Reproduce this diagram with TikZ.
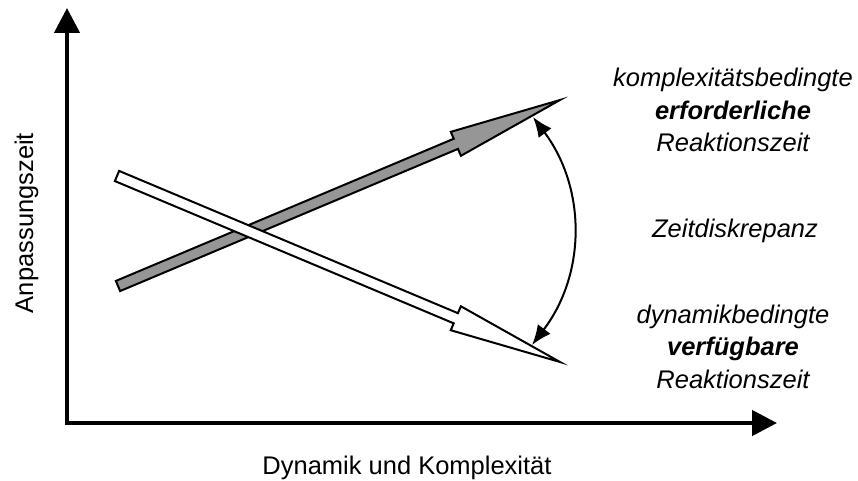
\documentclass[tikz,border=0pt]{standalone}
\usepackage{fontspec}
\setmainfont{Liberation Sans}
\usepackage{tikz}
\usetikzlibrary{arrows.meta, calc}
\definecolor{mydark}{RGB}{0,0,0}
\definecolor{shaftgray}{RGB}{150,150,150}
\tikzset{
  axis/.style={line width=4.5pt, color=mydark, line join=miter,
    {Triangle[length=25pt,width=25pt]}-{Triangle[length=25pt,width=25pt]}},
  grayarrow/.style={draw=mydark, fill=shaftgray, line width=2pt},
  whitearrow/.style={draw=mydark, fill=white, line width=2pt},
  gaparrow/.style={{Latex[length=20pt,width=16pt]}-{Latex[length=20pt,width=16pt]},
    line width=2pt, color=mydark},
  axislabel/.style={font=\fontsize{25.5}{30}\selectfont, inner sep=0pt},
  sidelabel/.style={font=\fontsize{25.5}{32.5}\selectfont\itshape,
    align=center, inner sep=0pt}
}
% #1 style, #2 start, #3 tip, #4 head base
\newcommand{\fatarrow}[4]{%
  \draw[#1] ($(#2)!5.5pt!90:(#3)$) -- ($(#4)!5.5pt!90:(#3)$)
    -- ($(#4)!13pt!90:(#3)$) -- (#3) -- ($(#4)!13pt!-90:(#3)$)
    -- ($(#4)!5.5pt!-90:(#3)$) -- ($(#2)!5.5pt!-90:(#3)$) -- cycle;}

\begin{document}
\begin{tikzpicture}[x=1pt, y=-1pt]
  \useasboundingbox (0,0) rectangle (858,481);

  % axes
  \coordinate (origin) at (67,423);
  \coordinate (ytip) at (67,8);
  \coordinate (xtip) at (777,423);
  \draw[axis] (ytip) -- (origin) -- (xtip);
  \node[axislabel, rotate=90, anchor=base] (ylab) at (33,223) {Anpassungszeit};
  \node[axislabel, anchor=base] (xlab) at (407,474) {Dynamik und Komplexität};

  % required reaction time (gray) and available reaction time (white)
  \coordinate (gstart) at (118,286);
  \coordinate (gtip) at (560,100);
  \coordinate (ghead) at ($(gtip)!113pt!(gstart)$);
  \coordinate (wstart) at (117,176);
  \coordinate (wtip) at (560,362);
  \coordinate (whead) at ($(wtip)!113pt!(wstart)$);
  \fatarrow{grayarrow}{gstart}{gtip}{ghead}
  \fatarrow{whitearrow}{wstart}{wtip}{whead}

  % discrepancy
  \coordinate (gaptop) at (533,117);
  \coordinate (gapbot) at (532,345);
  \draw[gaparrow] (gaptop) to[bend left=37] (gapbot);

  \node[sidelabel, anchor=base] (req) at (733,152)
    {komplexitätsbedingte\\\textbf{erforderliche}\\Reaktionszeit};
  \node[sidelabel, anchor=base] (gap) at (735,237) {Zeitdiskrepanz};
  \node[sidelabel, anchor=base] (avail) at (733,388)
    {dynamikbedingte\\\textbf{verfügbare}\\Reaktionszeit};
\end{tikzpicture}
\end{document}
